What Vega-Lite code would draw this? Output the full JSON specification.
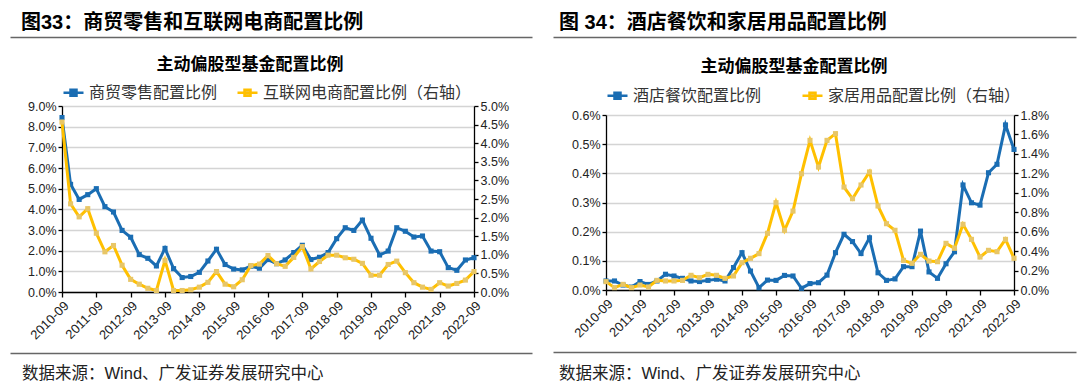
{
  "$schema": "https://vega.github.io/schema/vega-lite/v6.json",
  "background": "white",
  "padding": {"left": 10, "top": 13, "right": 0, "bottom": 0},
  "config": {
    "view": {"stroke": null},
    "font": "Liberation Sans, Noto Sans CJK SC",
    "title": {"font": "Liberation Sans, Noto Sans CJK SC", "color": "#000"},
    "axis": {"domainColor": "#000", "tickColor": "#000", "labelColor": "#222", "labelFontSize": 12.5, "labelFont": "Liberation Sans", "domainWidth": 1.3, "tickWidth": 1.3, "tickSize": 4, "gridColor": "#d4d4d4", "gridWidth": 1.5, "title": null},
    "legend": {"labelFont": "Noto Sans CJK SC", "labelColor": "#333", "labelFontSize": 16, "labelLimit": 400}
  },
  "datasets": {
    "retail": [
      {"q": "2010-09", "a": 8.44, "b": 4.57},
      {"q": "2010-12", "a": 5.21, "b": 2.37},
      {"q": "2011-03", "a": 4.48, "b": 2.02},
      {"q": "2011-06", "a": 4.71, "b": 2.24},
      {"q": "2011-09", "a": 5.00, "b": 1.58},
      {"q": "2011-12", "a": 4.13, "b": 1.08},
      {"q": "2012-03", "a": 3.87, "b": 1.25},
      {"q": "2012-06", "a": 2.98, "b": 0.72},
      {"q": "2012-09", "a": 2.65, "b": 0.34},
      {"q": "2012-12", "a": 1.81, "b": 0.21},
      {"q": "2013-03", "a": 1.63, "b": 0.10},
      {"q": "2013-06", "a": 1.26, "b": 0.04},
      {"q": "2013-09", "a": 2.11, "b": 0.85},
      {"q": "2013-12", "a": 1.13, "b": 0.04},
      {"q": "2014-03", "a": 0.70, "b": 0.04},
      {"q": "2014-06", "a": 0.75, "b": 0.06},
      {"q": "2014-09", "a": 0.95, "b": 0.13},
      {"q": "2014-12", "a": 1.50, "b": 0.26},
      {"q": "2015-03", "a": 2.07, "b": 0.55},
      {"q": "2015-06", "a": 1.33, "b": 0.21},
      {"q": "2015-09", "a": 1.11, "b": 0.14},
      {"q": "2015-12", "a": 1.07, "b": 0.33},
      {"q": "2016-03", "a": 1.25, "b": 0.71},
      {"q": "2016-06", "a": 1.15, "b": 0.75},
      {"q": "2016-09", "a": 1.57, "b": 0.98},
      {"q": "2016-12", "a": 1.37, "b": 0.76},
      {"q": "2017-03", "a": 1.55, "b": 0.69},
      {"q": "2017-06", "a": 1.91, "b": 0.93},
      {"q": "2017-09", "a": 2.26, "b": 1.22},
      {"q": "2017-12", "a": 1.57, "b": 0.62},
      {"q": "2018-03", "a": 1.68, "b": 0.82},
      {"q": "2018-06", "a": 1.91, "b": 0.99},
      {"q": "2018-09", "a": 2.58, "b": 0.99},
      {"q": "2018-12", "a": 3.11, "b": 0.92},
      {"q": "2019-03", "a": 2.98, "b": 0.88},
      {"q": "2019-06", "a": 3.48, "b": 0.77},
      {"q": "2019-09", "a": 2.60, "b": 0.45},
      {"q": "2019-12", "a": 1.79, "b": 0.45},
      {"q": "2020-03", "a": 1.98, "b": 0.74},
      {"q": "2020-06", "a": 3.11, "b": 0.83},
      {"q": "2020-09", "a": 2.94, "b": 0.52},
      {"q": "2020-12", "a": 2.66, "b": 0.25},
      {"q": "2021-03", "a": 2.71, "b": 0.13},
      {"q": "2021-06", "a": 1.98, "b": 0.07},
      {"q": "2021-09", "a": 1.95, "b": 0.25},
      {"q": "2021-12", "a": 1.18, "b": 0.16},
      {"q": "2022-03", "a": 1.05, "b": 0.23},
      {"q": "2022-06", "a": 1.55, "b": 0.32},
      {"q": "2022-09", "a": 1.66, "b": 0.55}
    ],
    "hotel": [
      {"q": "2010-09", "c": 0.031, "d": 0.086},
      {"q": "2010-12", "c": 0.031, "d": 0.024},
      {"q": "2011-03", "c": 0.017, "d": 0.058},
      {"q": "2011-06", "c": 0.010, "d": 0.024},
      {"q": "2011-09", "c": 0.029, "d": 0.051},
      {"q": "2011-12", "c": 0.019, "d": 0.031},
      {"q": "2012-03", "c": 0.031, "d": 0.099},
      {"q": "2012-06", "c": 0.054, "d": 0.093},
      {"q": "2012-09", "c": 0.048, "d": 0.093},
      {"q": "2012-12", "c": 0.040, "d": 0.099},
      {"q": "2013-03", "c": 0.031, "d": 0.151},
      {"q": "2013-06", "c": 0.029, "d": 0.127},
      {"q": "2013-09", "c": 0.033, "d": 0.161},
      {"q": "2013-12", "c": 0.037, "d": 0.151},
      {"q": "2014-03", "c": 0.031, "d": 0.120},
      {"q": "2014-06", "c": 0.077, "d": 0.144},
      {"q": "2014-09", "c": 0.128, "d": 0.281},
      {"q": "2014-12", "c": 0.065, "d": 0.326},
      {"q": "2015-03", "c": 0.008, "d": 0.374},
      {"q": "2015-06", "c": 0.034, "d": 0.583},
      {"q": "2015-09", "c": 0.033, "d": 0.898},
      {"q": "2015-12", "c": 0.050, "d": 0.614},
      {"q": "2016-03", "c": 0.048, "d": 0.812},
      {"q": "2016-06", "c": 0.006, "d": 1.196},
      {"q": "2016-09", "c": 0.022, "d": 1.539},
      {"q": "2016-12", "c": 0.025, "d": 1.265},
      {"q": "2017-03", "c": 0.051, "d": 1.539},
      {"q": "2017-06", "c": 0.128, "d": 1.608},
      {"q": "2017-09", "c": 0.191, "d": 1.059},
      {"q": "2017-12", "c": 0.166, "d": 0.939},
      {"q": "2018-03", "c": 0.125, "d": 1.080},
      {"q": "2018-06", "c": 0.179, "d": 1.214},
      {"q": "2018-09", "c": 0.059, "d": 0.864},
      {"q": "2018-12", "c": 0.033, "d": 0.682},
      {"q": "2019-03", "c": 0.038, "d": 0.614},
      {"q": "2019-06", "c": 0.080, "d": 0.305},
      {"q": "2019-09", "c": 0.080, "d": 0.274},
      {"q": "2019-12", "c": 0.202, "d": 0.367},
      {"q": "2020-03", "c": 0.062, "d": 0.298},
      {"q": "2020-06", "c": 0.040, "d": 0.291},
      {"q": "2020-09", "c": 0.090, "d": 0.480},
      {"q": "2020-12", "c": 0.131, "d": 0.429},
      {"q": "2021-03", "c": 0.360, "d": 0.675},
      {"q": "2021-06", "c": 0.299, "d": 0.521},
      {"q": "2021-09", "c": 0.291, "d": 0.339},
      {"q": "2021-12", "c": 0.402, "d": 0.408},
      {"q": "2022-03", "c": 0.431, "d": 0.394},
      {"q": "2022-06", "c": 0.566, "d": 0.521},
      {"q": "2022-09", "c": 0.482, "d": 0.326}
    ]
  },
  "spacing": -31,
  "resolve": {"scale": {"color": "independent"}, "legend": {"color": "independent"}},
  "hconcat": [
    {
      "spacing": 5,
      "resolve": {"scale": {"color": "independent"}, "legend": {"color": "independent"}},
      "vconcat": [
        {
          "width": 470, "height": 14,
          "data": {"values": [{"part": "header"}]},
          "mark": {"type": "point", "opacity": 0},
          "encoding": {
            "x": {"datum": 0.5, "type": "quantitative", "scale": {"domain": [0, 1], "range": [-52, 470]},
              "axis": {"orient": "top", "domain": true, "domainColor": "#666", "domainWidth": 1.5, "ticks": false, "labels": false, "grid": false}}
          },
          "title": {"text": "图33：商贸零售和互联网电商配置比例", "anchor": "start", "dx": -41, "fontSize": 20, "fontWeight": "bold", "offset": 4}
        },
        {
          "width": 412, "height": 186,
          "data": {"name": "retail"},
          "title": {"text": "主动偏股型基金配置比例", "fontSize": 17, "fontWeight": "bold", "offset": 7, "dx": -18},
          "encoding": {
            "x": {"field": "q", "type": "ordinal", "sort": null, "scale": {"type": "point", "padding": 0},
              "axis": {"values": ["2010-09","2011-09","2012-09","2013-09","2014-09","2015-09","2016-09","2017-09","2018-09","2019-09","2020-09","2021-09","2022-09"], "labelAngle": -45, "labelFontSize": 13, "tickSize": 5, "grid": false, "labelPadding": 2}}
          },
          "layer": [
            {
              "encoding": {
                "y": {"field": "a", "type": "quantitative", "scale": {"domain": [0, 9], "nice": false},
                  "axis": {"orient": "left", "values": [0,1,2,3,4,5,6,7,8,9], "labelExpr": "format(datum.value, '.1f') + '%'", "grid": true, "minExtent": 52}}
              },
              "layer": [
                {
                  "mark": {"type": "line", "strokeWidth": 3},
                  "encoding": {
                    "color": {"datum": "商贸零售配置比例", "type": "nominal",
                      "scale": {"domain": ["商贸零售配置比例", "互联网电商配置比例（右轴）"], "range": ["#1a6db3", "#FFC000"]},
                      "legend": {"orient": "top", "direction": "horizontal", "title": null, "offset": 5, "symbolType": "M-1,0H1M-0.3,-0.3H0.3V0.3H-0.3Z", "symbolSize": 400, "symbolStrokeWidth": 2.5, "columnPadding": 14, "labelOffset": 4,
                        "encode": {"symbols": {"update": {"fill": {"signal": "datum.value === '商贸零售配置比例' ? '#1a6db3' : '#E8C667'"}}}}}}
                  }
                },
                {"mark": {"type": "square", "size": 26, "filled": true, "color": "#1a6db3", "opacity": 1}}
              ]
            },
            {
              "encoding": {
                "y": {"field": "b", "type": "quantitative", "scale": {"domain": [0, 5], "nice": false},
                  "axis": {"orient": "right", "values": [0,0.5,1,1.5,2,2.5,3,3.5,4,4.5,5], "labelExpr": "format(datum.value, '.1f') + '%'", "grid": false}}
              },
              "layer": [
                {
                  "mark": {"type": "line", "strokeWidth": 3},
                  "encoding": {"color": {"datum": "互联网电商配置比例（右轴）", "type": "nominal"}}
                },
                {"mark": {"type": "square", "size": 26, "filled": true, "color": "#E8C667", "opacity": 1}}
              ]
            }
          ],
          "resolve": {"scale": {"y": "independent"}}
        },
        {
          "width": 470, "height": 5,
          "data": {"values": [{"part": "footer"}]},
          "mark": {"type": "point", "opacity": 0},
          "encoding": {
            "x": {"datum": 0.5, "type": "quantitative", "scale": {"domain": [0, 1], "range": [-52, 470]},
              "axis": {"orient": "bottom", "domain": true, "domainColor": "#666", "domainWidth": 1.5, "ticks": false, "labels": false, "grid": false}}
          },
          "title": {"text": "数据来源：Wind、广发证券发展研究中心", "orient": "bottom", "anchor": "start", "dx": -40, "fontSize": 16.5, "fontWeight": "normal", "color": "#222", "offset": 13}
        }
      ]
    },
    {
      "spacing": 7,
      "resolve": {"scale": {"color": "independent"}, "legend": {"color": "independent"}},
      "vconcat": [
        {
          "width": 470, "height": 14,
          "data": {"values": [{"part": "header"}]},
          "mark": {"type": "point", "opacity": 0},
          "encoding": {
            "x": {"datum": 0.5, "type": "quantitative", "scale": {"domain": [0, 1], "range": [-53, 470]},
              "axis": {"orient": "top", "domain": true, "domainColor": "#666", "domainWidth": 1.5, "ticks": false, "labels": false, "grid": false}}
          },
          "title": {"text": "图 34：酒店餐饮和家居用品配置比例", "anchor": "start", "dx": -47, "fontSize": 20, "fontWeight": "bold", "offset": 4}
        },
        {
          "width": 408, "height": 175,
          "data": {"name": "hotel"},
          "title": {"text": "主动偏股型基金配置比例", "fontSize": 17, "fontWeight": "bold", "offset": 8, "dx": -16},
          "encoding": {
            "x": {"field": "q", "type": "ordinal", "sort": null, "scale": {"type": "point", "padding": 0},
              "axis": {"values": ["2010-09","2011-09","2012-09","2013-09","2014-09","2015-09","2016-09","2017-09","2018-09","2019-09","2020-09","2021-09","2022-09"], "labelAngle": -45, "labelFontSize": 13, "tickSize": 5, "grid": false, "labelPadding": 2}}
          },
          "layer": [
            {
              "encoding": {
                "y": {"field": "c", "type": "quantitative", "scale": {"domain": [0, 0.6], "nice": false},
                  "axis": {"orient": "left", "values": [0,0.1,0.2,0.3,0.4,0.5,0.6], "labelExpr": "format(datum.value, '.1f') + '%'", "grid": true, "minExtent": 53}}
              },
              "layer": [
                {
                  "mark": {"type": "line", "strokeWidth": 3},
                  "encoding": {
                    "color": {"datum": "酒店餐饮配置比例", "type": "nominal",
                      "scale": {"domain": ["酒店餐饮配置比例", "家居用品配置比例（右轴）"], "range": ["#1a6db3", "#FFC000"]},
                      "legend": {"orient": "top", "direction": "horizontal", "title": null, "offset": 11, "symbolType": "M-1,0H1M-0.3,-0.3H0.3V0.3H-0.3Z", "symbolSize": 400, "symbolStrokeWidth": 2.5, "columnPadding": 35, "labelOffset": 4,
                        "encode": {"symbols": {"update": {"fill": {"signal": "datum.value === '酒店餐饮配置比例' ? '#1a6db3' : '#E8C667'"}}}}}}
                  }
                },
                {"mark": {"type": "square", "size": 26, "filled": true, "color": "#1a6db3", "opacity": 1}}
              ]
            },
            {
              "encoding": {
                "y": {"field": "d", "type": "quantitative", "scale": {"domain": [0, 1.8], "nice": false},
                  "axis": {"orient": "right", "values": [0,0.2,0.4,0.6,0.8,1.0,1.2,1.4,1.6,1.8], "labelExpr": "format(datum.value, '.1f') + '%'", "grid": false}}
              },
              "layer": [
                {
                  "mark": {"type": "line", "strokeWidth": 3},
                  "encoding": {"color": {"datum": "家居用品配置比例（右轴）", "type": "nominal"}}
                },
                {"mark": {"type": "square", "size": 26, "filled": true, "color": "#E8C667", "opacity": 1}}
              ]
            }
          ],
          "resolve": {"scale": {"y": "independent"}}
        },
        {
          "width": 470, "height": 4,
          "data": {"values": [{"part": "footer"}]},
          "mark": {"type": "point", "opacity": 0},
          "encoding": {
            "x": {"datum": 0.5, "type": "quantitative", "scale": {"domain": [0, 1], "range": [-53, 470]},
              "axis": {"orient": "bottom", "domain": true, "domainColor": "#666", "domainWidth": 1.5, "ticks": false, "labels": false, "grid": false}}
          },
          "title": {"text": "数据来源：Wind、广发证券发展研究中心", "orient": "bottom", "anchor": "start", "dx": -47, "fontSize": 16.5, "fontWeight": "normal", "color": "#222", "offset": 13}
        }
      ]
    }
  ]
}
